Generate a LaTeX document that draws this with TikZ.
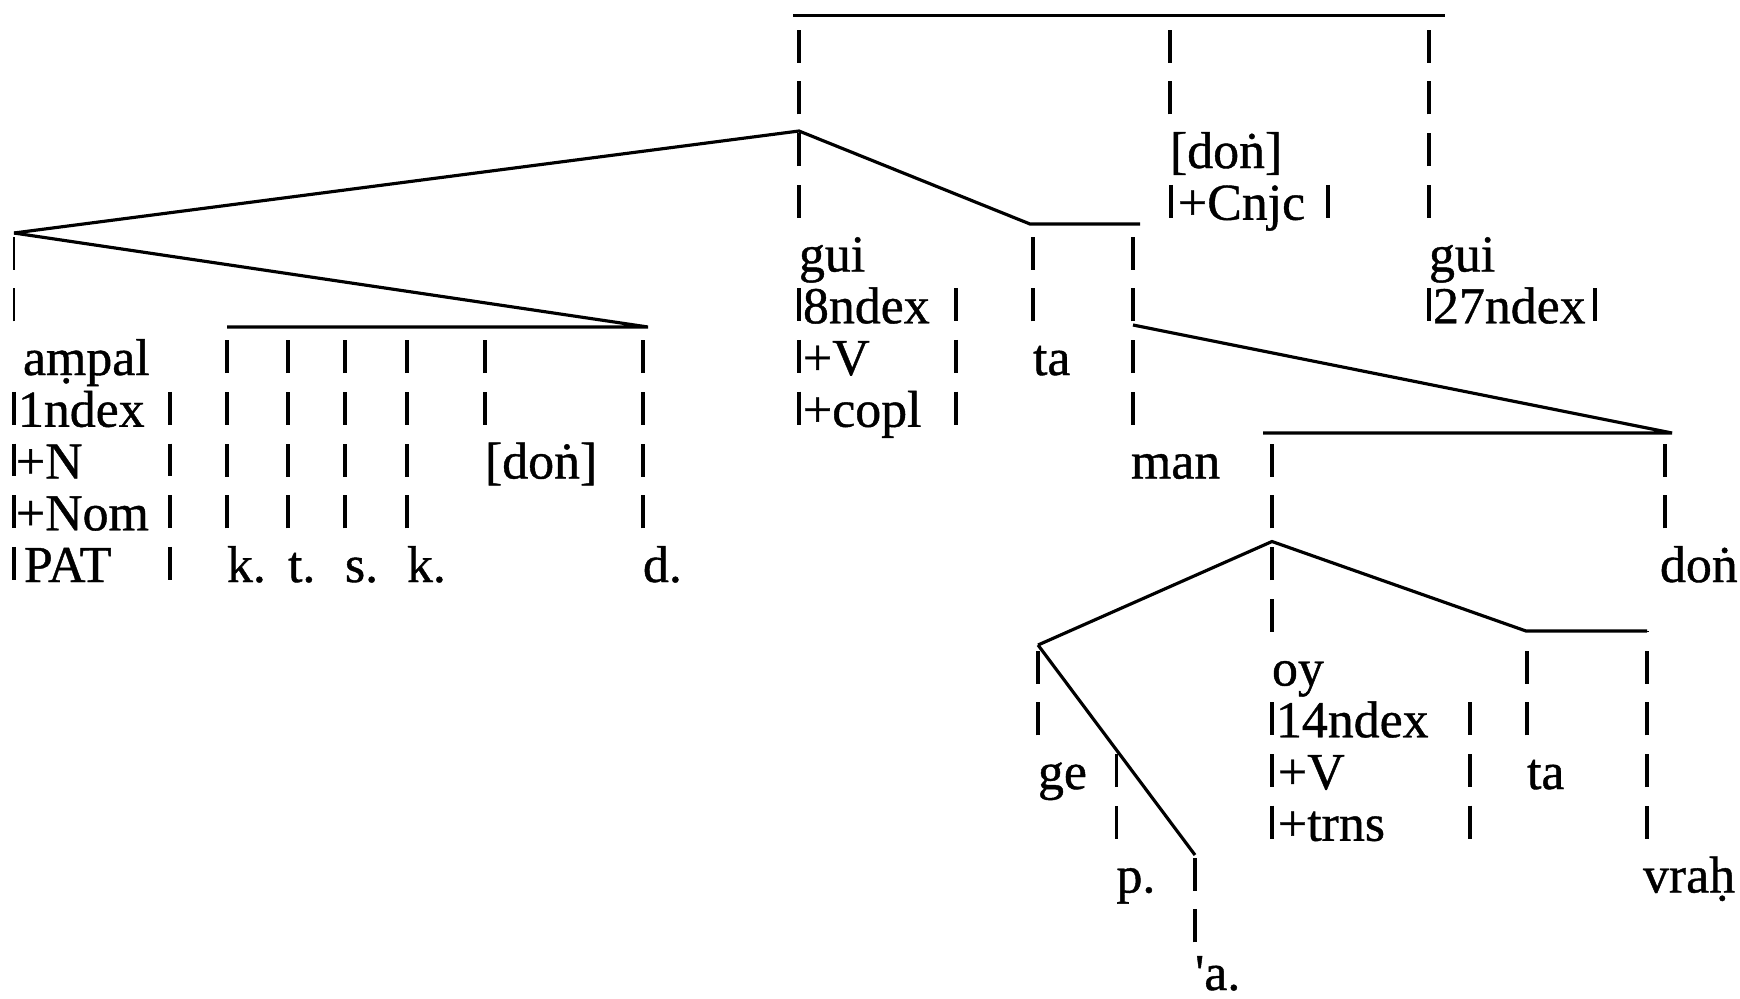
\documentclass[tikz,border=0pt]{standalone}
\usepackage{fontspec}
\setmainfont{Liberation Serif}
\newfontfamily\scanfont{Liberation Serif}[FakeBold=0.8]
\usetikzlibrary{calc}
\begin{document}
\begin{tikzpicture}[x=0.02cm, y=-0.02cm]
  \useasboundingbox (0,0) rectangle (1740,998);

  % Stile.
  \tikzstyle{word}=[anchor=base west, inner sep=0pt, outer sep=0pt, font=\scanfont\fontsize{29.5}{34}\selectfont]
  \tikzstyle{branch}=[line width=1.8pt]
  \tikzstyle{tick}=[line width=2pt, dash pattern=on 0.66cm off 0.375cm]
  \tikzstyle{faint}=[tick, line width=0.6pt]

  % Verzweigungen.
  \coordinate (topL) at (793,15.5);
  \coordinate (topR) at (1445,15.5);
  \coordinate (vAp) at (799,131);
  \coordinate (nAp) at (14,233);
  \coordinate (tbL) at (1030,224);
  \coordinate (tbR) at (1140,224);
  \coordinate (barL) at (227,327);
  \coordinate (barR) at (648,327);
  \coordinate (mJ) at (1133,325);
  \coordinate (rbL) at (1263,433);
  \coordinate (rAp) at (1672,433);
  \coordinate (dJ) at (1665,433);
  \coordinate (oAp) at (1272,541.5);
  \coordinate (gAp) at (1038,645);
  \coordinate (oL) at (1526,631);
  \coordinate (oR) at (1647,631);
  \coordinate (aEnd) at (1195,855);
  \coordinate (pJ) at ($(gAp)!0.5!(aEnd)$);

  % Woerter oben.
  \node[word] (don2) at (1170,168) {[doṅ]};
  \node[word] (cnjc) at (1178,219.75) {+Cnjc};
  \node[word] (gui2) at (1429,271.5) {gui};
  \node[word] (idx27) at (1433,323.25) {27ndex};
  \node[word] (gui1) at (799,271.5) {gui};
  \node[word] (idx8) at (803,323.25) {8ndex};
  \node[word] (v1) at (803,375) {+V};
  \node[word] (copl) at (803,426.75) {+copl};
  \node[word] (ta1) at (1033,375) {ta};
  \node[word] (man) at (1131,478.5) {man};

  % Woerter links.
  \node[word] (ampal) at (23,375) {aṃpal};
  \node[word] (idx1) at (18,426.75) {1ndex};
  \node[word] (n1) at (16,478.5) {+N};
  \node[word] (nom) at (16,530.25) {+Nom};
  \node[word] (pat) at (24,582) {PAT};
  \node[word] (k1) at (227,582) {k.};
  \node[word] (t1) at (288,582) {t.};
  \node[word] (s1) at (345,582) {s.};
  \node[word] (k2) at (407,582) {k.};
  \node[word] (don1) at (485,478.5) {[doṅ]};
  \node[word] (d1) at (643,582) {d.};

  % Woerter rechts.
  \node[word] (don3) at (1660,582) {doṅ};
  \node[word] (oy) at (1272,685.5) {oy};
  \node[word] (idx14) at (1276,737.25) {14ndex};
  \node[word] (v2) at (1278,789) {+V};
  \node[word] (trns) at (1278,840.75) {+trns};
  \node[word] (ta2) at (1527,789) {ta};
  \node[word] (vrah) at (1643,892.5) {vraḥ};
  \node[word] (ge) at (1038,789) {ge};
  \node[word] (p1) at (1116.5,892.5) {p.};
  \node[word] (a1) at (1195,990) {\textquotesingle a.};

  % Aeste.
  \draw[branch] (topL) -- (topR);
  \draw[branch] (nAp) -- (vAp) -- (tbL) -- (tbR);
  \draw[branch] (nAp) -- (barR) -- (barL);
  \draw[branch] (mJ) -- (rAp) -- (rbL);
  \draw[branch] (gAp) -- (oAp) -- (oL) -- (oR);
  \draw[branch] (gAp) -- (aEnd);

  % Gestrichelte Linien.
  \draw[tick] (gui1.base west) ++(0,-53.75) -- (gui1.base west |- topL);
  \draw[tick] (don2.base west) ++(0,-53.75) -- (don2.base west |- topL);
  \draw[tick] (gui2.base west) ++(0,-53.75) -- (gui2.base west |- topL);
  \draw[tick] (ta1.base west) ++(0,-53.75) -- (ta1.base west |- tbR);
  \draw[tick] (man.base west) ++(2,-53.75) -- (mJ |- tbR);
  \draw[faint] (ampal.base west) ++(-9,-53.75) -- (nAp);
  \draw[tick] (k1.base west) ++(0,-53.75) -- (k1.base west |- barR);
  \draw[tick] (t1.base west) ++(0,-53.75) -- (t1.base west |- barR);
  \draw[tick] (s1.base west) ++(0,-53.75) -- (s1.base west |- barR);
  \draw[tick] (k2.base west) ++(0,-53.75) -- (k2.base west |- barR);
  \draw[tick] (don1.base west) ++(0,-53.75) -- (don1.base west |- barR);
  \draw[tick] (d1.base west) ++(0,-53.75) -- (d1.base west |- barR);
  \draw[tick] (oy.base west) ++(0,-53.75) -- (oy.base west |- rAp);
  \draw[tick] (don3.base west) ++(5,-53.75) -- (dJ);
  \draw[tick] (ta2.base west) ++(0,-53.75) -- (ta2.base west |- oR);
  \draw[tick] (vrah.base west) ++(4,-53.75) -- (oR);
  \draw[tick] (ge.base west) ++(0,-53.75) -- (gAp);
  \draw[tick] (p1.base west) ++(0,-53.75) -- (pJ);
  \draw[tick] (a1.base west) ++(0,-47.75) -- (aEnd);

  % Merkmalsklammern.
  \draw[tick] (14,391.75) -- (14,580);
  \draw[tick] (170,391.75) -- (170,580);
  \draw[tick] (799,288.25) -- (799,424.75);
  \draw[tick] (956,288.25) -- (956,424.75);
  \draw[tick] (1171,184.75) -- (1171,217.75);
  \draw[tick] (1328,184.75) -- (1328,217.75);
  \draw[tick] (1429,288.25) -- (1429,321.25);
  \draw[tick] (1595,288.25) -- (1595,321.25);
  \draw[tick] (1272,702.25) -- (1272,838.75);
  \draw[tick] (1470,702.25) -- (1470,838.75);
\end{tikzpicture}
\end{document}
